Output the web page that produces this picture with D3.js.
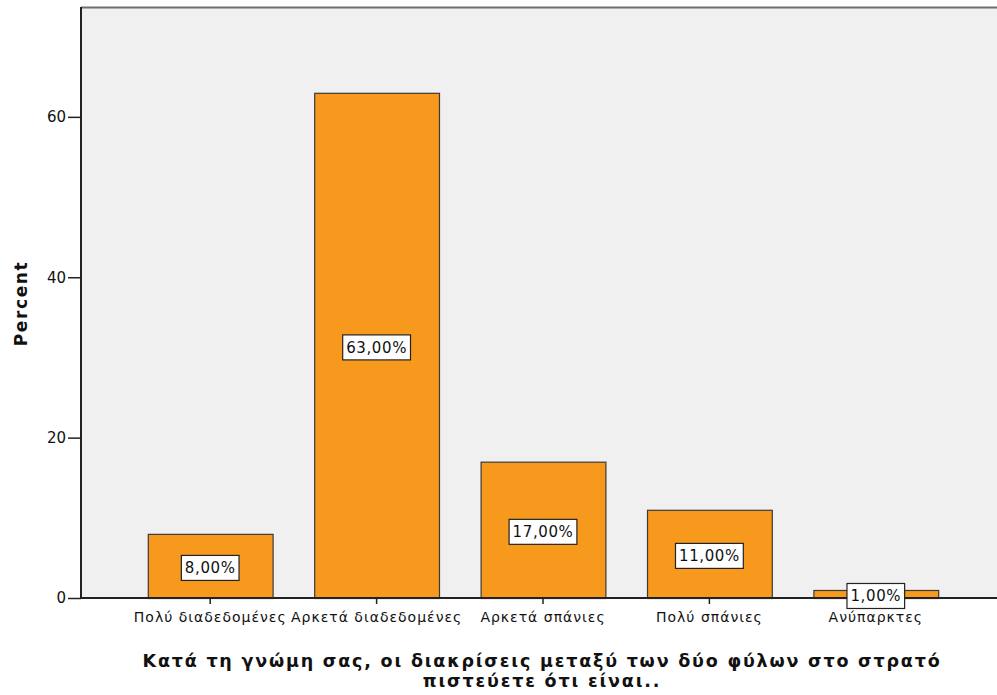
<!DOCTYPE html>
<html>
<head>
<meta charset="utf-8">
<script src="https://cdn.jsdelivr.net/npm/d3@7"></script>
<style>
  html, body { margin: 0; padding: 0; background: #ffffff; }
  svg { display: block; }
</style>
</head>
<body>
<svg id="chart" width="997" height="695"></svg>
<script>
// Response categories and their percentages
const categories = ["Πολύ διαδεδομένες", "Αρκετά διαδεδομένες", "Αρκετά σπάνιες", "Πολύ σπάνιες", "Ανύπαρκτες"];
const percents = [8, 63, 17, 11, 1];
const yTicks = [0, 20, 40, 60];
const yTitle = "Percent";
const xTitleLines = ["Κατά τη γνώμη σας, οι διακρίσεις μεταξύ των δύο φύλων στο στρατό", "πιστεύετε ότι είναι.."];

const svg = d3.select("#chart");
const plot = { left: 81, top: 7, right: 997, bottom: 598 };
const FONT = "'DejaVu Sans', Verdana, sans-serif";

const x = d3.scaleBand()
  .domain(categories)
  .range([127, 959])
  .paddingInner(0.25)
  .paddingOuter(0.125);

const y = d3.scaleLinear()
  .domain([0, 73.7])
  .range([plot.bottom, plot.top]);

const fmt = v => v.toFixed(2).replace(".", ",") + "%";

// plot background
svg.append("rect")
  .attr("x", plot.left).attr("y", plot.top)
  .attr("width", plot.right - plot.left).attr("height", plot.bottom - plot.top)
  .attr("fill", "#f0f0f0");

// top frame line
svg.append("line")
  .attr("x1", plot.left).attr("x2", plot.right)
  .attr("y1", plot.top + 0.5).attr("y2", plot.top + 0.5)
  .attr("stroke", "#6e6e6e").attr("stroke-width", 2);

// bars
svg.append("g").selectAll("rect")
  .data(percents)
  .join("rect")
  .attr("x", (d, i) => x(categories[i]) + 0.5)
  .attr("y", d => y(d) + 0.5)
  .attr("width", x.bandwidth())
  .attr("height", d => y(0) - y(d))
  .attr("fill", "#f7991c")
  .attr("stroke", "#3a3a3a")
  .attr("stroke-width", 1.2);

// y axis
const yAxis = d3.axisLeft(y).tickValues(yTicks).tickSize(13).tickPadding(2).tickFormat(d3.format("d"));
const gy = svg.append("g")
  .attr("transform", `translate(${plot.left},0)`)
  .call(yAxis);
gy.select(".domain").attr("stroke", "#222").attr("stroke-width", 2).attr("d", `M0,${plot.top}V${plot.bottom}`);
gy.selectAll(".tick line").attr("stroke", "#222").attr("stroke-width", 1.5);
gy.selectAll(".tick text")
  .attr("fill", "#111")
  .style("font-family", FONT)
  .style("font-size", "15px");

// x axis
const xAxis = d3.axisBottom(x).tickSize(6).tickPadding(8);
const gx = svg.append("g")
  .attr("transform", `translate(0,${plot.bottom})`)
  .call(xAxis);
gx.select(".domain").attr("stroke", "#222").attr("stroke-width", 2).attr("d", `M${plot.left},0H${plot.right}`);
gx.selectAll(".tick line").attr("stroke", "#222").attr("stroke-width", 1.5);
gx.selectAll(".tick text")
  .attr("fill", "#111")
  .style("font-family", FONT)
  .style("font-size", "14px")
  .style("letter-spacing", "1px");

// value labels inside boxes
const labels = svg.append("g").selectAll("g")
  .data(percents)
  .join("g")
  .attr("transform", (d, i) => `translate(${x(categories[i]) + x.bandwidth() / 2},${(y(d) + y(0)) / 2 + 2})`);

labels.append("text")
  .attr("text-anchor", "middle")
  .attr("dy", "0.36em")
  .attr("fill", "#111")
  .style("font-family", FONT)
  .style("font-size", "15px")
  .style("letter-spacing", "0.6px")
  .text(d => fmt(d));

labels.each(function () {
  const g = d3.select(this);
  const bb = g.select("text").node().getBBox();
  g.insert("rect", "text")
    .attr("x", bb.x - 3.5).attr("y", -12.5)
    .attr("width", bb.width + 7).attr("height", 25)
    .attr("fill", "#ffffff")
    .attr("stroke", "#222")
    .attr("stroke-width", 1.2);
});

// axis titles
svg.append("text")
  .attr("transform", `translate(27,${303.5}) rotate(-90)`)
  .attr("text-anchor", "middle")
  .attr("fill", "#111")
  .style("font-family", FONT)
  .style("font-weight", "bold")
  .style("font-size", "17px")
  .style("letter-spacing", "1.6px")
  .text(yTitle);

svg.append("g").selectAll("text")
  .data(xTitleLines)
  .join("text")
  .attr("x", 542)
  .attr("y", (d, i) => 667 + i * 20)
  .attr("text-anchor", "middle")
  .attr("fill", "#111")
  .style("font-family", FONT)
  .style("font-weight", "bold")
  .style("font-size", "17.5px")
  .style("letter-spacing", "1.8px")
  .text(d => d);
</script>
</body>
</html>
